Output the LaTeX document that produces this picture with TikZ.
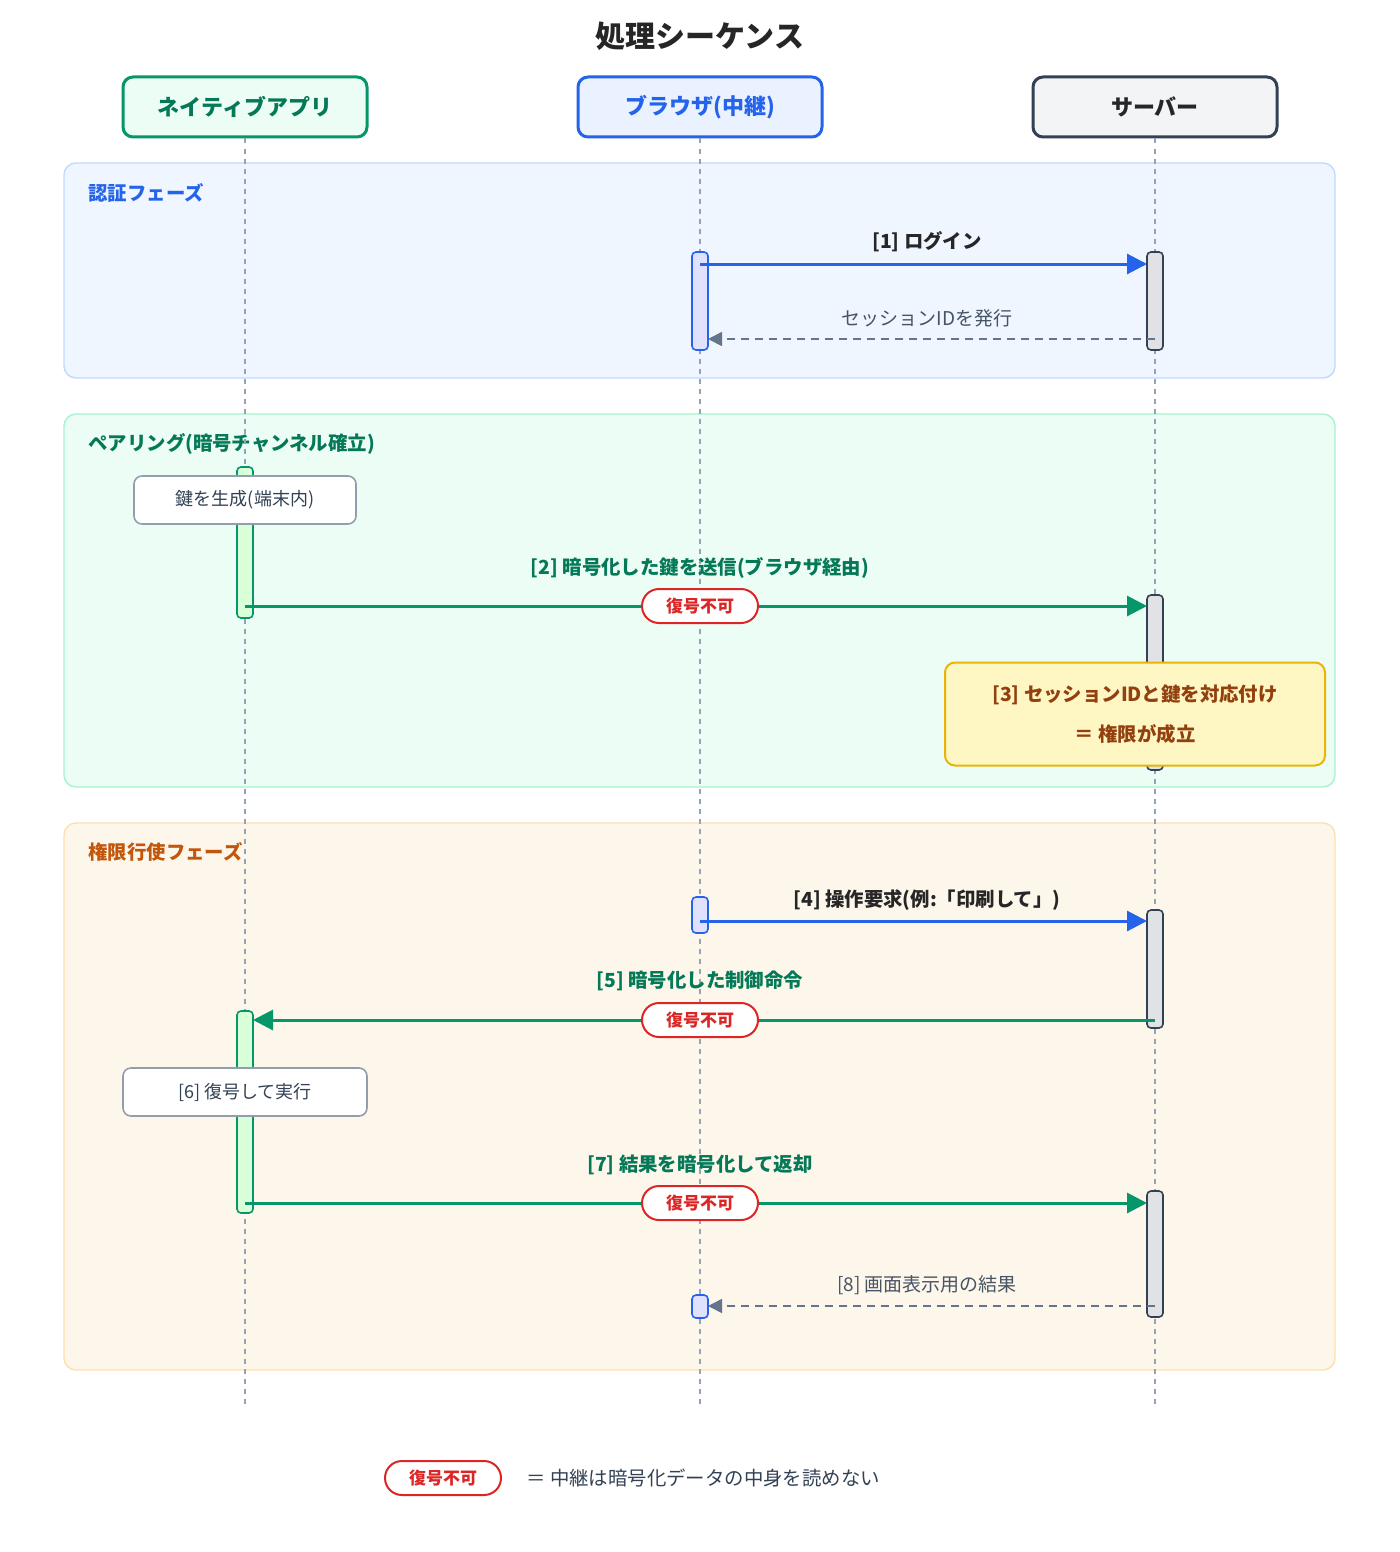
\documentclass[tikz,border=0pt]{standalone}
\usepackage{fontspec}
\setmainfont{Noto Sans CJK JP}
\usetikzlibrary{arrows.meta}
\definecolor{blu}{HTML}{2563EB}
\definecolor{grn}{HTML}{059669}
\definecolor{dgrn}{HTML}{047857}
\definecolor{slate}{HTML}{334155}
\definecolor{gry}{HTML}{64748B}
\definecolor{redc}{HTML}{DC2626}
\definecolor{orn}{HTML}{C2570C}
\definecolor{gsec}{HTML}{ECFDF5}
\definecolor{gsecd}{HTML}{A7F3D0}
\definecolor{osec}{HTML}{FDF6EA}
\definecolor{osecd}{HTML}{FDE0B0}
\definecolor{bsec}{HTML}{EFF6FF}
\definecolor{bsecd}{HTML}{BFDBFE}
\definecolor{bhead}{HTML}{EAF2FF}
\definecolor{ynote}{HTML}{FEF6C3}
\definecolor{ynoted}{HTML}{EAB308}
\definecolor{brn}{HTML}{92400E}
\definecolor{lifec}{HTML}{94A3B8}
\tikzset{
  px/.style={x=0.5pt,y=-0.5pt},
  head/.style={draw,rounded corners=5pt,line width=1.5pt,minimum width=122pt,minimum height=30pt,font=\fontsize{11}{13}\selectfont\bfseries},
  sec/.style={rounded corners=6pt,line width=0.7pt},
  life/.style={lifec,line width=1pt,dash pattern=on 2.5pt off 2.5pt},
  act/.style={draw,rounded corners=2pt,line width=0.8pt,minimum width=8pt,inner sep=0pt},
  msg/.style={line width=1.5pt,-{Triangle[length=10pt,width=10pt]}},
  ret/.style={line width=0.9pt,gry,dash pattern=on 4pt off 3pt,-{Triangle[length=7pt,width=7pt]}},
  lab/.style={font=\fontsize{9.7}{11}\selectfont\bfseries},
  badge/.style={draw=redc,fill=white,text=redc,rounded corners=8.5pt,line width=1pt,minimum width=58pt,minimum height=17pt,inner sep=0pt,font=\fontsize{8.5}{10}\selectfont\bfseries},
  note/.style={draw=gry!70,fill=white,rounded corners=4pt,line width=0.8pt,minimum height=24pt,inner sep=0pt,font=\fontsize{9}{11}\selectfont,text=slate},
}
\newcommand{\actbox}[6]{\node[act,draw=#5,fill=#6,minimum height={(#4-#3)*0.5pt}] (#1) at (#2,{(#3+#4)/2}) {};}
\begin{document}
\begin{tikzpicture}[px]
\useasboundingbox (0,0) rectangle (1400,1552);
\fill[white] (0,0) rectangle (1400,1552);
\node[font=\fontsize{15}{17}\selectfont\bfseries,text=black!85] (title) at (700,36) {処理シーケンス};
% sections
\draw[sec,draw=bsecd,fill=bsec] (64,163) rectangle (1335,378);
\draw[sec,draw=gsecd,fill=gsec] (64,414) rectangle (1335,787);
\draw[sec,draw=osecd,fill=osec] (64,823) rectangle (1335,1370);
\node[anchor=west,inner sep=0pt,text=blu,lab] (s1) at (88,193) {認証フェーズ};
\node[anchor=west,inner sep=0pt,text=dgrn,lab] (s2) at (88,444) {ペアリング(暗号チャンネル確立)};
\node[anchor=west,inner sep=0pt,text=orn,lab] (s3) at (88,852) {権限行使フェーズ};
% heads
\node[head,draw=grn,fill=gsec,text=dgrn] (na) at (245,107) {ネイティブアプリ};
\node[head,draw=blu,fill=bhead,text=blu] (br) at (700,107) {ブラウザ(中継)};
\node[head,draw=slate,fill=slate!6!white,text=black!85] (sv) at (1155,107) {サーバー};
\coordinate (naE) at (245,1405);
\coordinate (brE) at (700,1405);
\coordinate (svE) at (1155,1405);
\draw[life] (na.south) -- (naE);
\draw[life] (br.south) -- (brE);
\draw[life] (sv.south) -- (svE);
% activations
\actbox{b1}{700}{252}{350}{blu}{blue!12!white}
\actbox{v1}{1155}{252}{350}{slate}{slate!15!white}
\actbox{n1}{245}{467}{618}{grn}{green!15!white}
\actbox{v2}{1155}{595}{770}{slate}{slate!15!white}
\actbox{b2}{700}{897}{933}{blu}{blue!12!white}
\actbox{v3}{1155}{910}{1028}{slate}{slate!15!white}
\actbox{n2}{245}{1011}{1213}{grn}{green!15!white}
\actbox{v4}{1155}{1191}{1317}{slate}{slate!15!white}
\actbox{b3}{700}{1295}{1318}{blu}{blue!12!white}
% [1]
\coordinate (m1a) at (700,264); \coordinate (m1b) at (1147,264);
\draw[msg,blu] (m1a) -- (m1b);
\node[lab,text=black!85] (l1) at (927,242) {[1] ログイン};
\coordinate (r1a) at (1155,339); \coordinate (r1b) at (708,339);
\draw[ret] (r1a) -- (r1b);
\node[font=\fontsize{9.5}{11}\selectfont,text=slate!90] (l1r) at (927,318) {セッションIDを発行};
% key gen
\node[note,minimum width=111pt] (kg) at (245,500) {鍵を生成(端末内)};
% [2]
\coordinate (m2a) at (245,606); \coordinate (m2b) at (1147,606);
\draw[msg,grn] (m2a) -- (m2b);
\node[lab,text=dgrn] (l2) at (700,568) {[2] 暗号化した鍵を送信(ブラウザ経由)};
\node[badge] (bd2) at (700,606) {復号不可};
% [3]
\node[draw=ynoted,fill=ynote,rounded corners=5pt,line width=1pt,minimum width=190pt,minimum height=51.5pt,align=center,text=brn,font=\fontsize{9.7}{20}\selectfont\bfseries] (n3) at (1135,714) {[3] セッションIDと鍵を対応付け\\＝ 権限が成立};
% [4]
\coordinate (m4a) at (700,921); \coordinate (m4b) at (1147,921);
\draw[msg,blu] (m4a) -- (m4b);
\node[lab,text=black!85] (l4) at (927,900) {[4] 操作要求(例:「印刷して」)};
% [5]
\coordinate (m5a) at (1155,1020); \coordinate (m5b) at (253,1020);
\draw[msg,grn] (m5a) -- (m5b);
\node[lab,text=dgrn] (l5) at (700,981) {[5] 暗号化した制御命令};
\node[badge] (bd5) at (700,1020) {復号不可};
% [6]
\node[note,minimum width=122pt] (n6) at (245,1092) {[6] 復号して実行};
% [7]
\coordinate (m7a) at (245,1203); \coordinate (m7b) at (1147,1203);
\draw[msg,grn] (m7a) -- (m7b);
\node[lab,text=dgrn] (l7) at (700,1165) {[7] 結果を暗号化して返却};
\node[badge] (bd7) at (700,1203) {復号不可};
% [8]
\coordinate (r8a) at (1155,1306); \coordinate (r8b) at (708,1306);
\draw[ret] (r8a) -- (r8b);
\node[font=\fontsize{9.5}{11}\selectfont,text=slate!90] (l8) at (927,1285) {[8] 画面表示用の結果};
% legend
\node[badge] (lg) at (443,1478) {復号不可};
\node[anchor=west,inner sep=0pt,font=\fontsize{9.7}{11}\selectfont,text=slate] (lgt) at (526,1478) {＝ 中継は暗号化データの中身を読めない};
\end{tikzpicture}
\end{document}
